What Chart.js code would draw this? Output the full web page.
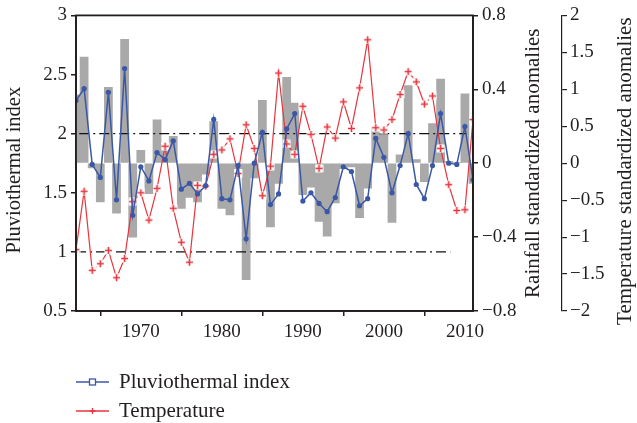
<!DOCTYPE html>
<html>
<head>
<meta charset="utf-8">
<script src="https://cdn.jsdelivr.net/npm/chart.js@4.4.1/dist/chart.umd.min.js"></script>
<style>
  html, body { margin: 0; padding: 0; background: #ffffff; }
  #chart { display: block; }
</style>
</head>
<body>
<canvas id="chart" width="637" height="423"></canvas>
<script>
// Annual series, 1962-2011
const years = [
  1962, 1963, 1964, 1965, 1966, 1967, 1968, 1969, 1970, 1971,
  1972, 1973, 1974, 1975, 1976, 1977, 1978, 1979, 1980, 1981,
  1982, 1983, 1984, 1985, 1986, 1987, 1988, 1989, 1990, 1991,
  1992, 1993, 1994, 1995, 1996, 1997, 1998, 1999, 2000, 2001,
  2002, 2003, 2004, 2005, 2006, 2007, 2008, 2009, 2010, 2011
];

const pluviothermalIndex = [
  2.28, 2.38, 1.74, 1.63, 2.35, 1.44, 2.55, 1.31, 1.72, 1.60,
  1.84, 1.78, 1.94, 1.53, 1.58, 1.49, 1.56, 2.12, 1.45, 1.44,
  1.73, 1.11, 1.75, 2.01, 1.40, 1.49, 2.04, 2.17, 1.43, 1.50,
  1.41, 1.34, 1.46, 1.72, 1.68, 1.39, 1.45, 1.96, 1.80, 1.50,
  1.73, 2.00, 1.57, 1.45, 1.73, 2.17, 1.75, 1.74, 2.06, 1.61
];

const temperatureAnomaly = [
  -1.17, -0.38, -1.45, -1.36, -1.18, -1.55, -1.29, -0.52, -0.40, -0.77,
  -0.34,  0.23, -0.61, -1.07, -1.34, -0.30, -0.31,  0.12,  0.18,  0.33,
  -0.14,  0.52,  0.20, -0.44, -0.04,  1.22,  0.26,  0.12,  0.77,  0.39,
  -0.07,  0.49,  0.34,  0.83,  0.47,  1.02,  1.67,  0.48,  0.45,  0.59,
   0.93,  1.24,  1.10,  0.80,  0.91,  0.20, -0.29, -0.64, -0.63,  0.59
];

const rainfallAnomaly = [
   0.37,  0.575, -0.025, -0.21,  0.41, -0.27,  0.67, -0.40,  0.07, -0.165,
   0.235, 0.10,   0.145, -0.245, -0.185, -0.21, -0.06, 0.225, -0.245, -0.28,
  -0.03, -0.63,  -0.08,   0.34, -0.345, -0.11,  0.465, 0.325, -0.17, -0.13,
  -0.315, -0.395, -0.215, -0.03, -0.02, -0.295, -0.135, 0.195, 0.155, -0.32,
   0.045, 0.42,   0.02,  -0.10,  0.215, 0.455, 0.01, 0.005, 0.375, -0.11
];

// Reference levels of the index and the years they span
const thresholdLevels = [2, 1];
const thresholdSpans = [[1962.4, 2010.2], [1962, 2008.2]];

// Tick values
const yearTicks = [1970, 1980, 1990, 2000, 2010];
const indexTicks = [0.5, 1, 1.5, 2, 2.5, 3];
const rainTicks = [-0.8, -0.4, 0, 0.4, 0.8];
const tempTicks = [-2, -1.5, -1, -0.5, 0, 0.5, 1, 1.5, 2];

const INK = '#231f20';
const BLUE = '#3a58a6';
const RED = '#e8343c';
const GREY = '#a9a9a9';
const FONT = 'Liberation Serif';

const fmt = v => (v < 0 ? '\u2212' + Math.abs(v) : String(v));
const setTicks = list => scale => { scale.ticks = list.map(v => ({ value: v })); };

// red "+" marker on a small white square
function plusMarker(color) {
  const c = document.createElement('canvas');
  c.width = 9; c.height = 9;
  const g = c.getContext('2d');
  g.fillStyle = '#ffffff';
  g.fillRect(0.5, 0.5, 8, 8);
  g.strokeStyle = color;
  g.lineWidth = 1.6;
  g.beginPath();
  g.moveTo(4.5, 1); g.lineTo(4.5, 8);
  g.moveTo(1, 4.5); g.lineTo(8, 4.5);
  g.stroke();
  return c;
}

const toXY = values => years.map((yr, i) => ({ x: yr, y: values[i] }));

const thresholdSets = thresholdLevels.map((lvl, i) => ({
  type: 'line',
  label: 'threshold ' + lvl,
  data: thresholdSpans[i].map(x => ({ x: x, y: lvl })),
  yAxisID: 'yIndex',
  borderColor: '#111111',
  borderWidth: 1.3,
  borderDash: [10, 4, 2, 4],
  pointRadius: 0,
  fill: false
}));

// plot frame drawn over the bars
const framePlugin = {
  id: 'frame',
  afterDatasetsDraw(chart) {
    const { ctx, chartArea: a } = chart;
    ctx.save();
    ctx.strokeStyle = INK;
    ctx.lineWidth = 1.8;
    ctx.strokeRect(a.left, a.top, a.right - a.left, a.bottom - a.top);
    ctx.restore();
  }
};

// vertical axis titles, reading bottom-to-top
const sideTitlePlugin = {
  id: 'sideTitles',
  afterDraw(chart, args, opts) {
    const { ctx } = chart;
    opts.items.forEach(it => {
      const s = chart.scales[it.scale];
      const x = it.fromLeft ? s.left + it.inset : s.right - it.inset;
      ctx.save();
      ctx.translate(x, (chart.chartArea.top + chart.chartArea.bottom) / 2 + it.shift);
      ctx.rotate(-Math.PI / 2);
      ctx.font = it.size + 'px "' + FONT + '"';
      ctx.fillStyle = INK;
      ctx.textAlign = 'center';
      ctx.textBaseline = 'middle';
      ctx.fillText(it.text, 0, 0);
      ctx.restore();
    });
  }
};

// legend below the plot, left aligned with it
const legendPlugin = {
  id: 'sideLegend',
  afterDraw(chart, args, opts) {
    const { ctx, chartArea: a } = chart;
    opts.entries.forEach((idx, row) => {
      const ds = chart.data.datasets[idx];
      const y = opts.top + row * opts.rowGap;
      const x0 = a.left, x1 = a.left + opts.lineLen, xm = (x0 + x1) / 2;
      ctx.save();
      ctx.strokeStyle = ds.borderColor;
      ctx.lineWidth = 1.4;
      ctx.beginPath(); ctx.moveTo(x0, y); ctx.lineTo(x1, y); ctx.stroke();
      if (ds.pointStyle === 'circle') {
        ctx.fillStyle = '#ffffff';
        ctx.fillRect(xm - 3, y - 3, 6, 6);
        ctx.lineWidth = 1.3;
        ctx.strokeRect(xm - 3, y - 3, 6, 6);
      } else {
        ctx.lineWidth = 1.3;
        ctx.beginPath();
        ctx.moveTo(xm, y - 3); ctx.lineTo(xm, y + 3);
        ctx.moveTo(xm - 3, y); ctx.lineTo(xm + 3, y);
        ctx.stroke();
      }
      ctx.font = opts.size + 'px "' + FONT + '"';
      ctx.fillStyle = INK;
      ctx.textAlign = 'left';
      ctx.textBaseline = 'middle';
      ctx.fillText(ds.label, x1 + opts.gap, y);
      ctx.restore();
    });
  }
};

const tickFont = { family: FONT, size: 19 };

new Chart(document.getElementById('chart'), {
  type: 'line',
  data: {
    datasets: [
      {
        type: 'line',
        label: 'Pluviothermal index',
        data: toXY(pluviothermalIndex),
        yAxisID: 'yIndex',
        borderColor: BLUE,
        backgroundColor: BLUE,
        borderWidth: 1.5,
        pointStyle: 'circle',
        pointRadius: 2.6,
        pointBorderWidth: 0,
        tension: 0
      },
      {
        type: 'line',
        label: 'Temperature',
        data: toXY(temperatureAnomaly),
        yAxisID: 'yTemp',
        borderColor: RED,
        backgroundColor: RED,
        borderWidth: 1.2,
        pointStyle: plusMarker(RED),
        pointRadius: 4,
        tension: 0
      },
      ...thresholdSets,
      {
        type: 'bar',
        label: 'Rainfall',
        data: toXY(rainfallAnomaly),
        yAxisID: 'yRain',
        backgroundColor: GREY,
        borderWidth: 0,
        barPercentage: 1,
        categoryPercentage: 1,
        clip: 0
      }
    ]
  },
  options: {
    responsive: false,
    animation: false,
    devicePixelRatio: 1,
    events: [],
    layout: { padding: { left: 0, right: 0, top: 13, bottom: 82 } },
    scales: {
      x: {
        type: 'linear',
        position: 'bottom',
        min: 1962,
        max: 2011,
        offset: false,
        afterBuildTicks: setTicks(yearTicks),
        afterFit: s => { s.height = 30; },
        ticks: { font: tickFont, color: INK, padding: 5, maxRotation: 0, autoSkip: false, callback: v => String(v) },
        grid: { drawOnChartArea: false, tickLength: 5, color: INK, lineWidth: 1.5 },
        border: { display: true, color: INK, width: 1.8 }
      },
      yIndex: {
        type: 'linear',
        position: 'left',
        min: 0.5,
        max: 3,
        afterBuildTicks: setTicks(indexTicks),
        afterFit: s => { s.width = 76; },
        ticks: { font: tickFont, color: INK, padding: 4, callback: fmt },
        grid: { drawOnChartArea: false, tickLength: 5, color: INK, lineWidth: 1.5 },
        border: { display: true, color: INK, width: 1.8 }
      },
      yRain: {
        type: 'linear',
        position: 'right',
        weight: 0,
        min: -0.8,
        max: 0.8,
        afterBuildTicks: setTicks(rainTicks),
        afterFit: s => { s.width = 89; },
        ticks: { font: tickFont, color: INK, padding: 4, callback: fmt },
        grid: { drawOnChartArea: false, tickLength: 5, color: INK, lineWidth: 1.5 },
        border: { display: true, color: INK, width: 1.8 }
      },
      yTemp: {
        type: 'linear',
        position: 'right',
        weight: 1,
        min: -2,
        max: 2,
        afterBuildTicks: setTicks(tempTicks),
        afterFit: s => { s.width = 75; },
        ticks: { font: tickFont, color: INK, padding: 3, callback: fmt },
        grid: { drawOnChartArea: false, tickLength: 5, color: INK, lineWidth: 1.2 },
        border: { display: true, color: INK, width: 1.2 }
      }
    },
    plugins: {
      legend: { display: false },
      tooltip: { enabled: false },
      sideTitles: {
        items: [
          { scale: 'yIndex', fromLeft: true, text: 'Pluviothermal index', inset: 15, shift: 7, size: 20.5 },
          { scale: 'yRain', text: 'Rainfall standardized anomalies', inset: 29, shift: 0, size: 21 },
          { scale: 'yTemp', text: 'Temperature standardized anomalies', inset: 12, shift: 8, size: 21 }
        ]
      },
      sideLegend: { entries: [0, 1], top: 382, rowGap: 29, lineLen: 33, gap: 10, size: 21 }
    }
  },
  plugins: [framePlugin, sideTitlePlugin, legendPlugin]
});
</script>
</body>
</html>
